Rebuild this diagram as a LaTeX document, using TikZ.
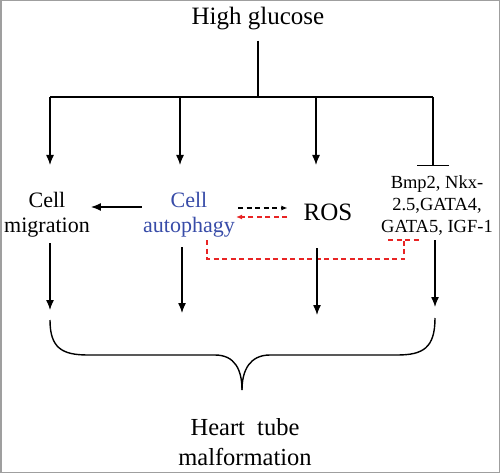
\documentclass[tikz,border=0pt]{standalone}
\usepackage{fontspec}
\setmainfont{Liberation Serif}
\usetikzlibrary{positioning, arrows.meta}
\definecolor{autoblue}{RGB}{56,76,168}
\definecolor{inhred}{RGB}{232,36,36}

\begin{document}
\begin{tikzpicture}[x=1pt, y=-1pt,
    main/.style = {align=center, inner sep=1pt, anchor=base},
    arr/.style = {-{Latex[length=10pt, width=8pt]}, line width=1.3pt},
    dsh/.style = {line width=1.3pt, dash pattern=on 5pt off 3.5pt},
    dtip/.style = {-{Latex[length=6pt, width=5pt]}}]
            \useasboundingbox (0,0) rectangle (500,473);
            \draw[gray!75, line width=1.5pt] (0.75,0.75) rectangle (499.25,472.25);
            \node[main, font=\fontsize{25}{30}\selectfont] (hg) at (258,25) {High glucose};
            \node[main, font=\fontsize{22}{25}\selectfont] (mig) at (47,232) {Cell\\migration};
            \node[main, font=\fontsize{22}{25}\selectfont, text=autoblue] (auto) at (189,232) {Cell\\autophagy};
            \node[main, font=\fontsize{25}{30}\selectfont] (ros) at (328,220) {ROS};
            \node[main, font=\fontsize{18.5}{22}\selectfont] (bmp) at (437,232) {Bmp2, Nkx-\\2.5,GATA4,\\GATA5, IGF-1};
            \node[main, font=\fontsize{24.5}{30}\selectfont] (heart) at (245,465) {Heart~~tube\\malformation};
            % branches from high glucose
            \coordinate (split) at (258,97);
            \foreach \x [count=\i] in {50,180,316,433} {
                \coordinate (b\i) at (\x,97);
                \coordinate (t\i) at (\x,166);
            }
            \draw[line width=1.3pt, shorten <=9pt] (hg) -- (split);
            \draw[line width=1.3pt] (b1) -- (b4);
            \foreach \i in {1,2,3} \draw[arr] (b\i) -- ([yshift=1pt]t\i);
            \draw[line width=1.3pt, -{Bar[width=32pt, line width=1.3pt]}] (b4) -- (t4);
            % links between the effects
            \coordinate (lnk) at ([yshift=25pt]auto.base);
            \coordinate (dk) at ([yshift=24pt]auto.base);
            \coordinate (dr) at ([yshift=15pt]auto.base);
            \draw[arr] (lnk -| auto.west) -- (lnk -| mig.east);
            \draw[dsh, dtip, shorten <=2pt, shorten >=15pt] (dk -| auto.east) -- (dk -| ros.west);
            \draw[dsh, dtip, inhred, shorten <=15pt] (dr -| ros.west) -- (dr -| auto.east);
            \coordinate (rs) at ([xshift=18pt, yshift=-8pt]auto.base);
            \coordinate (rb) at ([xshift=-33pt, yshift=-8pt]bmp.base);
            \draw[dsh, inhred] (rs) -- ++(0,19) -| (rb);
            \draw[dsh, inhred] ([xshift=-16pt]rb) -- ([xshift=16pt]rb);
            % down to the outcome
            \foreach \x/\ya/\yb [count=\i] in {50/243/310, 182/247/313, 317/248/315, 435/240/307} {
                \coordinate (s\i) at (\x,\ya);
                \coordinate (e\i) at (\x,\yb);
                \draw[arr] (s\i) -- (e\i);
            }
            \coordinate (tip) at (242,390);
            \draw[line width=1.4pt] (50,320) .. controls (50,348) and (62,355) .. (88,355) -- (215,355)
                .. controls (235,355) and (242,370) .. (tip);
            \draw[line width=1.4pt] (435,318) .. controls (435,348) and (423,355) .. (397,355) -- (270,355)
                .. controls (250,355) and (242,370) .. (tip);
        \end{tikzpicture}
\end{document}
